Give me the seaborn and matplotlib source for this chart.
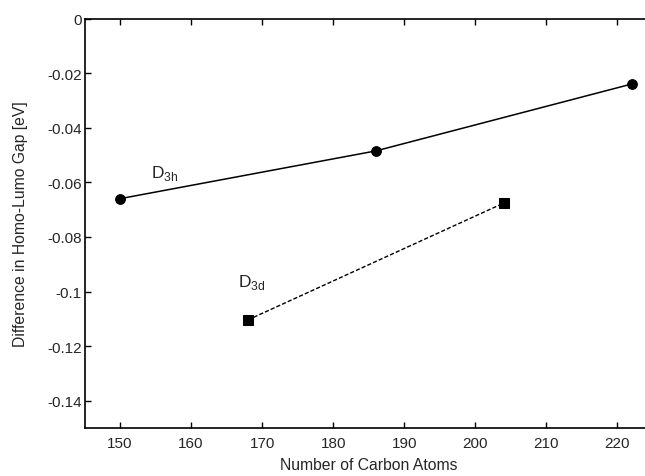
import pandas as pd
import matplotlib
matplotlib.use('Agg')
import matplotlib.pyplot as plt
import seaborn as sns

# D3h and D3d fullerene series
d3h_atoms = [150, 186, 222]
d3h_gap = [-0.0660, -0.0485, -0.0240]
d3d_atoms = [168, 204]
d3d_gap = [-0.1104, -0.0676]

sns.set_style('ticks')
plt.rcParams['font.family'] = ['Liberation Sans', 'DejaVu Sans']

fig = plt.figure(figsize=(6.45, 4.77), dpi=100)
ax = fig.add_axes([84.5 / 645, 48 / 477, (653 - 84.5) / 645, (429 - 19.5) / 477])

df_h = pd.DataFrame({'atoms': d3h_atoms, 'gap': d3h_gap})
df_d = pd.DataFrame({'atoms': d3d_atoms, 'gap': d3d_gap})

sns.lineplot(data=df_h, x='atoms', y='gap', ax=ax, color='black', lw=1.1,
             marker='o', markersize=7, markeredgecolor='black')
sns.lineplot(data=df_d, x='atoms', y='gap', ax=ax, color='black', lw=1.0,
             linestyle=(0, (3, 1.5)), marker='s', markersize=6.5,
             markeredgecolor='black')

ax.text(154.3, -0.0565, r'D$_{\mathregular{3h}}$', fontsize=12.5, va='center')
ax.text(166.6, -0.0965, r'D$_{\mathregular{3d}}$', fontsize=12.5, va='center')

ax.set_xlim(145, 225)
ax.set_ylim(-0.15, 0)
ax.set_xticks([150, 160, 170, 180, 190, 200, 210, 220])
ax.set_yticks([0, -0.02, -0.04, -0.06, -0.08, -0.1, -0.12, -0.14])
ax.set_yticklabels(['0', '-0.02', '-0.04', '-0.06', '-0.08', '-0.1', '-0.12', '-0.14'])
ax.tick_params(direction='in', length=4, width=1, top=True, right=True,
               labelsize=11, color='black')
ax.tick_params(axis='x', pad=6)
ax.tick_params(axis='y', pad=2)
for s in ax.spines.values():
    s.set_linewidth(1.2)
    s.set_color('black')

ax.set_xlabel('Number of Carbon Atoms', fontsize=11.3, labelpad=5)
ax.set_ylabel('Difference in Homo-Lumo Gap [eV]', fontsize=11.3, labelpad=14)

fig.savefig('out.png', dpi=100)
